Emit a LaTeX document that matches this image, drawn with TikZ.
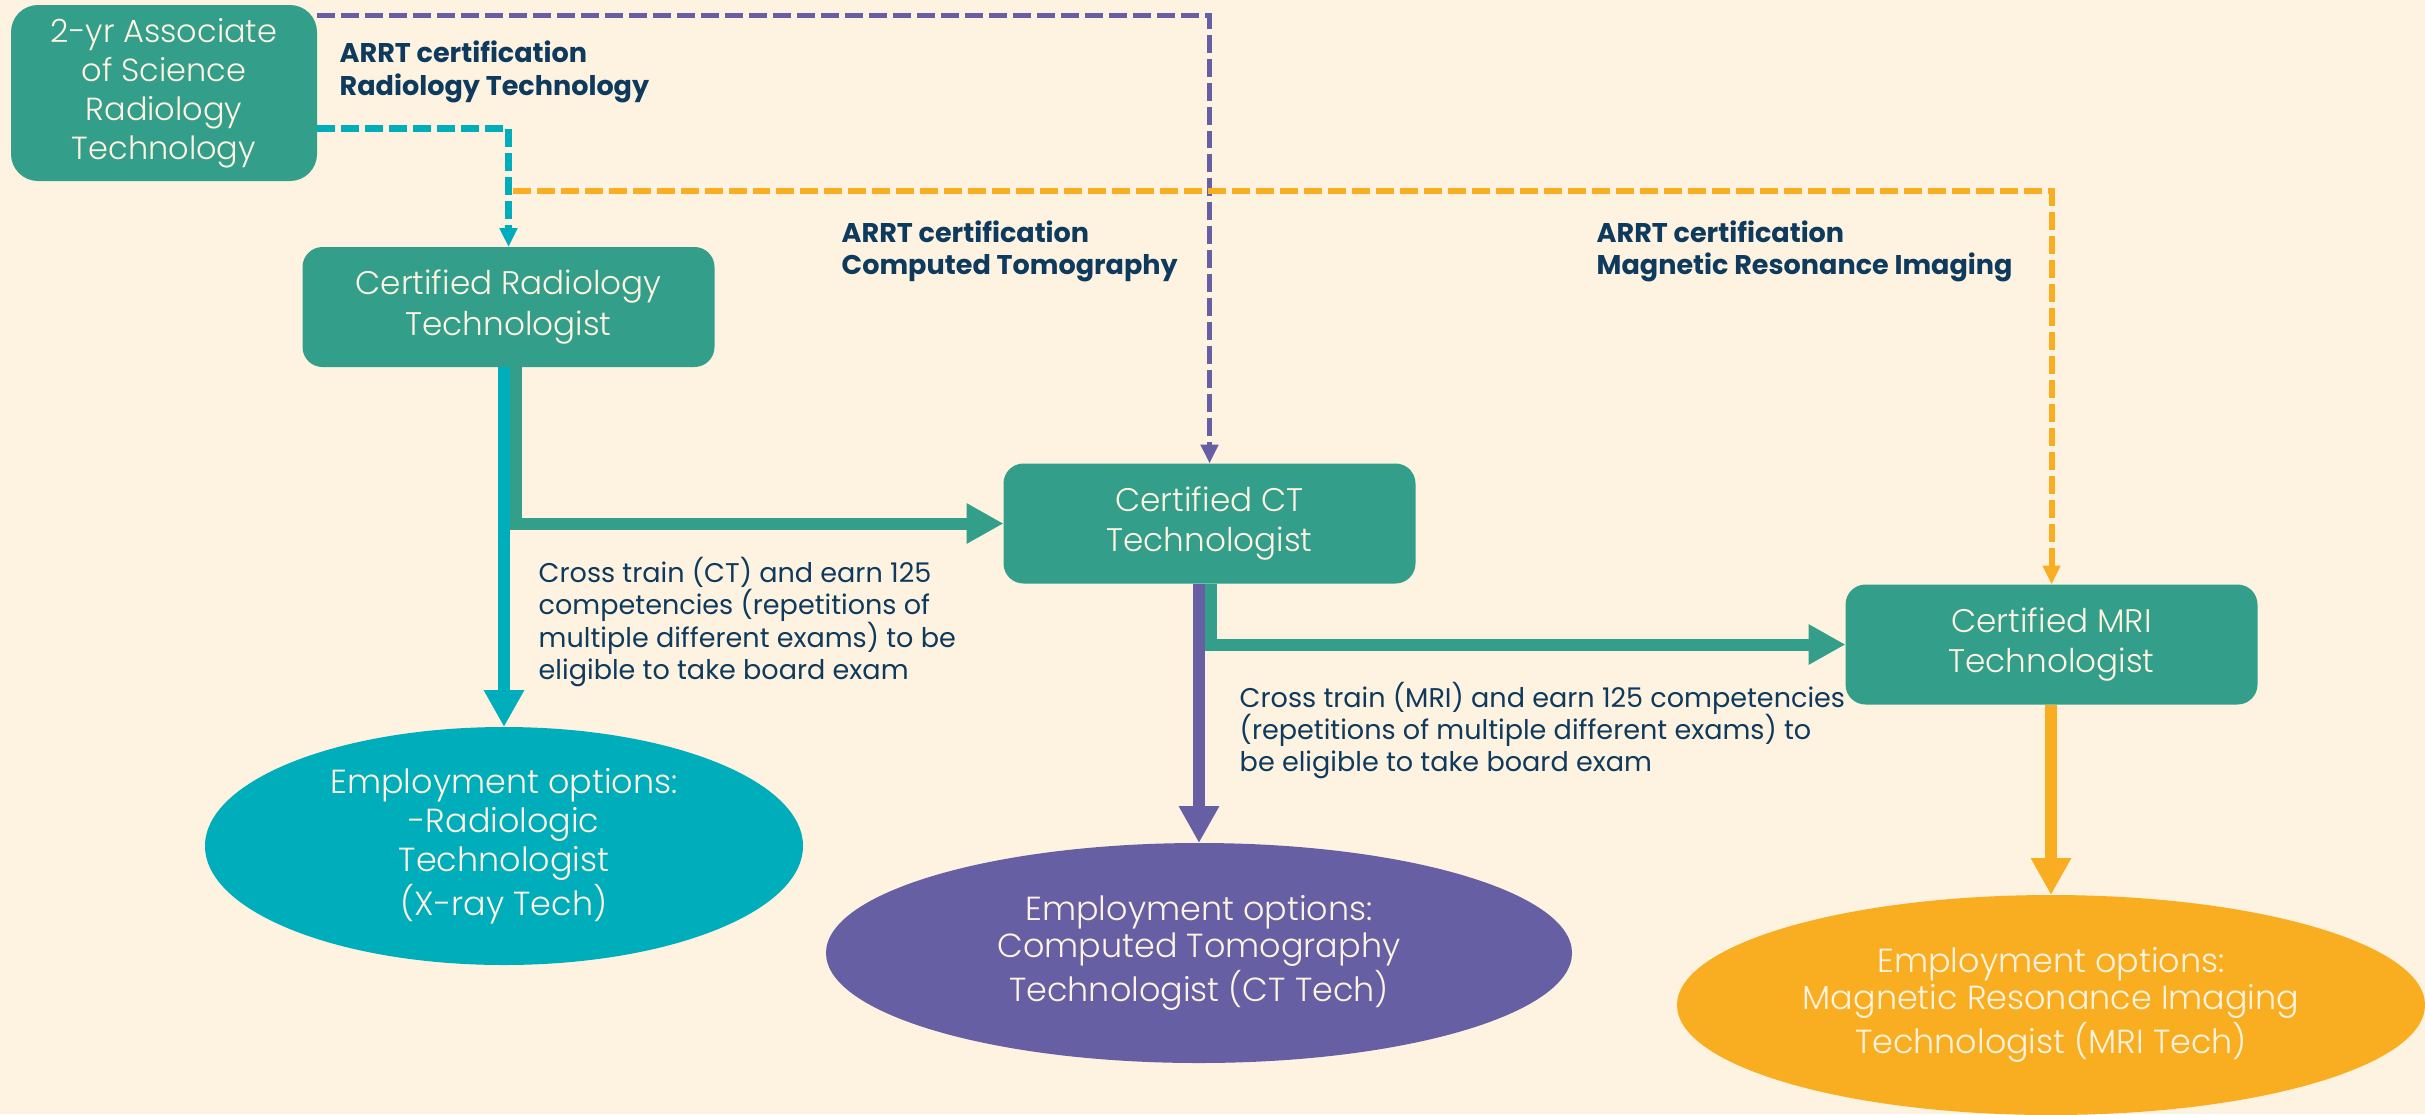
\documentclass[tikz,border=0pt]{standalone}
\usepackage{fontspec}
\setmainfont{Poppins}
\newfontfamily\lightfont{Poppins Light}
\usetikzlibrary{positioning}
\usetikzlibrary{arrows.meta}
\usetikzlibrary{shapes.geometric}
\definecolor{cream}{HTML}{FEF3E1}
\definecolor{boxgreen}{HTML}{339E89}
\definecolor{cyanc}{HTML}{00ADBB}
\definecolor{purplec}{HTML}{665FA4}
\definecolor{orangec}{HTML}{F9AE21}
\definecolor{navy}{HTML}{0E3A5E}

\begin{document}
\begin{tikzpicture}[>={Triangle[length=0.37cm,width=0.38cm]}]
    \tikzset{block/.style= {fill=boxgreen, rectangle, rounded corners=0.2cm, align=center, text=cream, font=\lightfont\fontsize{9.3}{11.4}\selectfont, minimum width=4.12cm, minimum height=1.2cm, inner sep=0pt, outer sep=0pt},
             outcome/.style= {ellipse, align=center, text=cream, font=\lightfont\fontsize{9.5}{10.4}\selectfont, inner sep=0pt, outer sep=0pt},
             note/.style= {align=left, text=navy, inner sep=0pt, anchor=west, font=\fontsize{7.7}{9.2}\selectfont},
             cert/.style= {note, font=\fontsize{7.7}{9.2}\selectfont\bfseries},
             route/.style= {line width=0.12cm, ->},
             dashroute/.style= {dash pattern=on 0.18cm off 0.06cm, -{Triangle[length=0.19cm,width=0.17cm]}},}

    \useasboundingbox (0,0) rectangle (24.25,-11.14);
    \fill[cream] (0,0) rectangle (24.25,-11.14);

    \node [block, minimum width=3.06cm, minimum height=1.76cm, rounded corners=0.27cm, font=\lightfont\fontsize{9.1}{11.1}\selectfont] (assoc) at (1.64,-0.93) {2-yr Associate\\of Science\\Radiology\\Technology};
    \node [block] (radtech) at (5.085,-3.07) {Certified Radiology\\Technologist};
    \node [block] (cttech) at (12.095,-5.235) {Certified CT\\Technologist};
    \node [block] (mritech) at (20.515,-6.445) {Certified MRI\\Technologist};

    \node [outcome, fill=cyanc, minimum width=5.98cm, minimum height=2.38cm, font=\lightfont\fontsize{9.5}{11.1}\selectfont] (xray) at (5.04,-8.46) {Employment options:\\-Radiologic\\Technologist\\(X-ray Tech)};
    \node [outcome, fill=purplec, minimum width=7.46cm, minimum height=2.2cm] (ctjob) at (11.99,-9.53) {Employment options:\\Computed Tomography\\Technologist (CT Tech)};
    \node [outcome, fill=orangec, minimum width=7.48cm, minimum height=2.2cm] (mrijob) at (20.51,-10.05) {Employment options:\\Magnetic Resonance Imaging\\Technologist (MRI Tech)};

    \node [cert] (certrad) at (3.39,-0.72) {ARRT certification\\Radiology Technology};
    \node [cert] (certct) at (8.41,-2.515) {ARRT certification\\Computed Tomography};
    \node [cert] (certmri) at (15.96,-2.515) {ARRT certification\\Magnetic Resonance Imaging};
    \node [note] (trainct) at (5.38,-6.22) {Cross train (CT) and earn 125\\competencies (repetitions of\\multiple different exams) to be\\eligible to take board exam};
    \node [note] (trainmri) at (12.39,-7.305) {Cross train (MRI) and earn 125 competencies\\(repetitions of multiple different exams) to\\be eligible to take board exam};

    % dashed certification routes
    \coordinate (fork) at ([xshift=0.04cm,yshift=0.56cm]radtech.north);
    \draw[dashroute, purplec, line width=0.05cm] (assoc.27) -| (cttech.north);
    \draw[dashroute, orangec, line width=0.06cm] (fork) -| (mritech.north);
    \draw[dashroute, cyanc, line width=0.065cm] (assoc.-13) -| (radtech.north);

    % solid routes
    \draw[route, boxgreen] ([xshift=0.115cm]xray.north |- radtech.south) |- (cttech.west);
    \draw[route, cyanc] (xray.north |- radtech.south) -- (xray.north);
    \draw[route, boxgreen] ([xshift=0.115cm]ctjob.north |- cttech.south) |- (mritech.west);
    \draw[route, purplec] (ctjob.north |- cttech.south) -- (ctjob.north);
    \draw[route, orangec] (mrijob.north |- mritech.south) -- (mrijob.north);
\end{tikzpicture}
\end{document}
